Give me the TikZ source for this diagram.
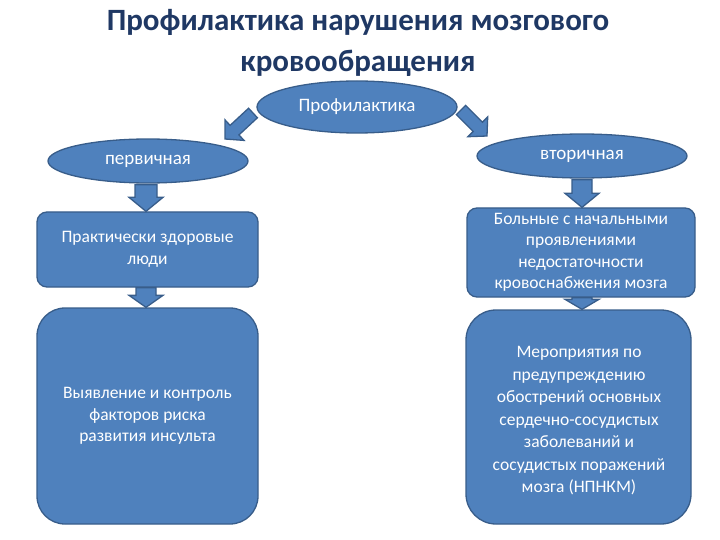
\documentclass[tikz,border=0pt]{standalone}
\usepackage{fontspec}
\setmainfont{Carlito}
\usetikzlibrary{calc,shapes.geometric}
\definecolor{fillc}{HTML}{4F81BD}
\definecolor{bordc}{HTML}{385D8A}
\definecolor{titc}{HTML}{1F3864}
% block arrow: #1 shaft half-width, #2 head half-width, #3 head length, #4 start, #5 tip
\newcommand\barrow[5]{%
 \draw[blk] ($(#4)!#1!90:(#5)$) -- ($(#5)!#3!(#4)!#1!-90:(#4)$) -- ($(#5)!#3!(#4)!#2!-90:(#4)$) -- (#5) -- ($(#5)!#3!(#4)!#2!90:(#4)$) -- ($(#5)!#3!(#4)!#1!90:(#4)$) -- ($(#4)!#1!-90:(#5)$) -- cycle;}
\begin{document}
\begin{tikzpicture}[x=1pt,y=-1pt,
 ell/.style={ellipse, draw=bordc, fill=fillc, line width=1.3pt, text=white, font=\fontsize{19}{22}\selectfont, inner sep=0pt},
 box/.style={rectangle, rounded corners=10pt, draw=bordc, fill=fillc, line width=1.3pt, text=white, align=center, font=\fontsize{17.5}{21.5}\selectfont, inner sep=0pt},
 btext/.style={text=white, align=center, font=\fontsize{17.5}{22.5}\selectfont, inner sep=0pt},
 blk/.style={draw=bordc, fill=fillc, line width=1.3pt, line join=miter}]
\useasboundingbox (0,0) rectangle (720,540);
\node[text=titc, font=\fontsize{31}{41}\selectfont\bfseries, align=center] (title) at (358,43) {Профилактика нарушения мозгового\\кровообращения};
\node[ell, minimum width=200pt, minimum height=52pt] (pr) at (357,107) {\raisebox{2pt}{Профилактика}};
\node[ell, minimum width=200pt, minimum height=44pt] (p1) at (148,161) {первичная};
\node[ell, minimum width=210pt, minimum height=44pt] (v1) at (582,156) {\raisebox{1pt}{вторичная}};
\node[box, minimum width=221pt, minimum height=75pt] (p2) at (147.5,249.5) {Практически здоровые\\люди};
\node[box, rounded corners=28pt, minimum width=221pt, minimum height=216pt] (p3) at (147.5,416) {Выявление и контроль\\факторов риска\\развития инсульта};
\node[box, minimum width=228pt, minimum height=89pt] (v2) at (581,252.5) {Больные с начальными\\проявлениями\\недостаточности\\кровоснабжения мозга};
\node[box, rounded corners=30pt, minimum width=225pt, minimum height=214pt] (v3) at (578.5,417) {};
\node[btext] (v3t) at (579,421) {Мероприятия по\\предупреждению\\обострений основных\\сердечно-сосудистых\\заболеваний и\\сосудистых поражений\\мозга (НПНКМ)};
% diagonal arrows
\coordinate (la) at (253,113);
\coordinate (lb) at (225,139);
\coordinate (ra) at (461,110);
\coordinate (rb) at (487,136);
\barrow{6.5pt}{14pt}{13pt}{la}{lb}
\barrow{6.5pt}{14pt}{13pt}{ra}{rb}
% vertical arrows
\coordinate (a1) at ($(p1.south)+(-2,1)$);
\coordinate (b1) at (a1 |- p2.north);
\barrow{11pt}{17pt}{14pt}{a1}{b1}
\coordinate (a2) at (a1 |- p2.south);
\coordinate (b2) at (a1 |- p3.north);
\barrow{10pt}{17pt}{12pt}{a2}{b2}
\coordinate (a3) at ($(v1.south)+(0,1)$);
\coordinate (b3) at (a3 |- v2.north);
\barrow{10pt}{17pt}{14pt}{a3}{b3}
\coordinate (a4) at (a3 |- v2.south);
\coordinate (b4) at (a3 |- v3.north);
\barrow{10pt}{17pt}{10pt}{a4}{b4}
\end{tikzpicture}
\end{document}
